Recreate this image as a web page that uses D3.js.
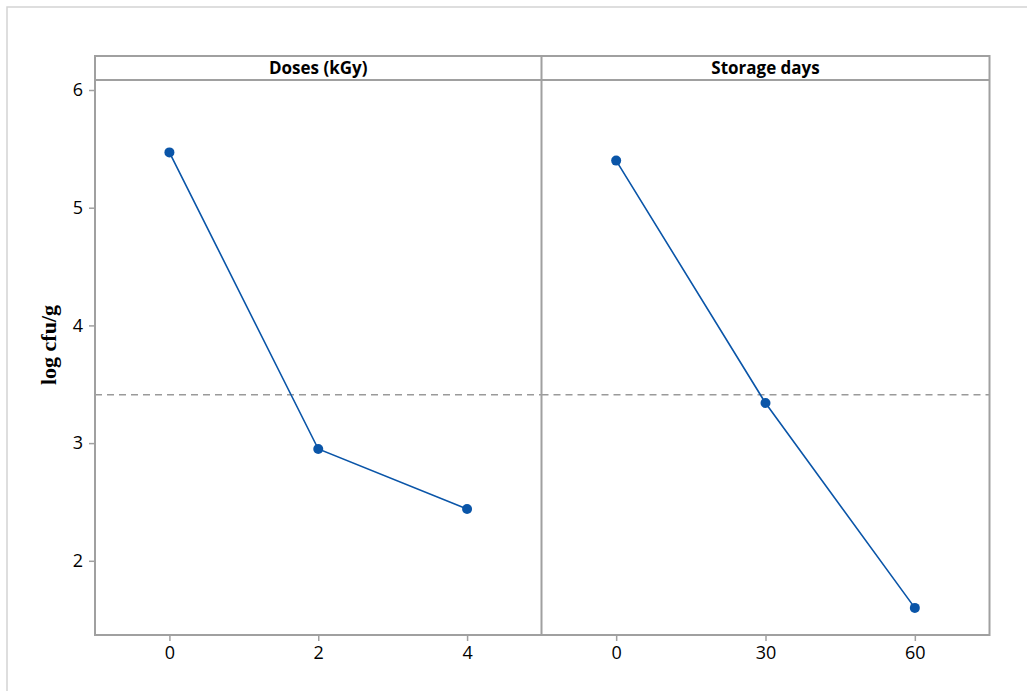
<!doctype html>
<html>
  <head>
    <meta charset="utf-8">
    <title>Main effects plot</title>
    <style>
      * { margin: 0; padding: 0; }
      body { background: #fff; }
      svg text { font-family: "Open Sans", "Noto Sans", sans-serif; }
    </style>
    <script src="https://d3js.org/d3.v7.min.js"></script>
  </head>
  <body>
    <script>
    // values
    const doseLevels = [0, 2, 4];
    const doseMeans = [5.47, 2.95, 2.44];
    const dayLevels = [0, 30, 60];
    const dayMeans = [5.40, 3.34, 1.60];
    const grandMean = 3.41;
    const yTicks = [2, 3, 4, 5, 6];
    const panelTitles = ["Doses (kGy)", "Storage days"];

    const W = 1027, H = 691;
    const pLeft = 95, pMid = 541.5, pRight = 989.5, pTop = 56, stripBottom = 80, pBottom = 635;
    const grey = "#a0a0a0", blue = "#0a55a8";

    const svg = d3.select("body").append("svg").attr("width", W).attr("height", H);

    // outer light frame
    svg.append("path").attr("d", "M7,691 V7 H1027")
      .attr("fill", "none").attr("stroke", "#d4d4d4").attr("stroke-width", 1.5);

    const y = d3.scaleLinear().domain([6, 5]).range([90, 207.7]);

    const panels = [
      { title: panelTitles[0], levels: doseLevels, means: doseMeans, x0: pLeft, x1: pMid, dom: [-1, 5] },
      { title: panelTitles[1], levels: dayLevels, means: dayMeans, x0: pMid, x1: pRight, dom: [-15, 75] }
    ];

    panels.forEach(function (p) {
      const x = d3.scaleLinear().domain(p.dom).range([p.x0, p.x1]);
      const g = svg.append("g");

      // mean reference line
      g.append("line")
        .attr("x1", p.x0).attr("x2", p.x1)
        .attr("y1", y(grandMean)).attr("y2", y(grandMean))
        .attr("stroke", "#9a9a9a").attr("stroke-width", 1.5)
        .attr("stroke-dasharray", "7,5");

      // x axis
      const ax = g.append("g").attr("transform", "translate(0," + pBottom + ")")
        .call(d3.axisBottom(x).tickValues(p.levels).tickFormat(d3.format("d"))
          .tickSize(6).tickPadding(5));
      ax.select(".domain").remove();
      ax.selectAll("line").attr("stroke", grey).attr("stroke-width", 1.5);
      ax.selectAll("text").attr("fill", "#000").style("font-size", "18px");

      // series
      const pts = p.levels.map(function (d, i) { return [x(d), y(p.means[i])]; });
      g.append("path").attr("d", d3.line()(pts))
        .attr("fill", "none").attr("stroke", blue).attr("stroke-width", 1.6);
      g.selectAll("circle").data(pts).join("circle")
        .attr("cx", d => d[0]).attr("cy", d => d[1]).attr("r", 5)
        .attr("fill", blue);

      // strip title
      g.append("text")
        .attr("x", (p.x0 + p.x1) / 2).attr("y", 74)
        .attr("text-anchor", "middle")
        .style("font-size", "17px").style("font-weight", "bold")
        .text(p.title);
    });

    // frames
    svg.append("rect").attr("x", pLeft).attr("y", pTop)
      .attr("width", pRight - pLeft).attr("height", pBottom - pTop)
      .attr("fill", "none").attr("stroke", grey).attr("stroke-width", 2);
    svg.append("line").attr("x1", pLeft).attr("x2", pRight)
      .attr("y1", stripBottom).attr("y2", stripBottom)
      .attr("stroke", grey).attr("stroke-width", 2);
    svg.append("line").attr("x1", pMid).attr("x2", pMid)
      .attr("y1", pTop).attr("y2", pBottom)
      .attr("stroke", grey).attr("stroke-width", 2);

    // y axis
    const ay = svg.append("g").attr("transform", "translate(" + pLeft + ",0)")
      .call(d3.axisLeft(y).tickValues(yTicks).tickFormat(d3.format("d"))
        .tickSize(6).tickPadding(6));
    ay.select(".domain").remove();
    ay.selectAll("line").attr("stroke", grey).attr("stroke-width", 1.5);
    ay.selectAll("text").attr("fill", "#000").style("font-size", "18px");

    svg.append("text")
      .attr("transform", "translate(56,345) rotate(-90)")
      .attr("text-anchor", "middle")
      .style("font-family", "'Liberation Serif', 'DejaVu Serif', serif")
      .style("font-size", "22px").style("font-weight", "bold")
      .text("log cfu/g");
    </script>
  </body>
</html>
